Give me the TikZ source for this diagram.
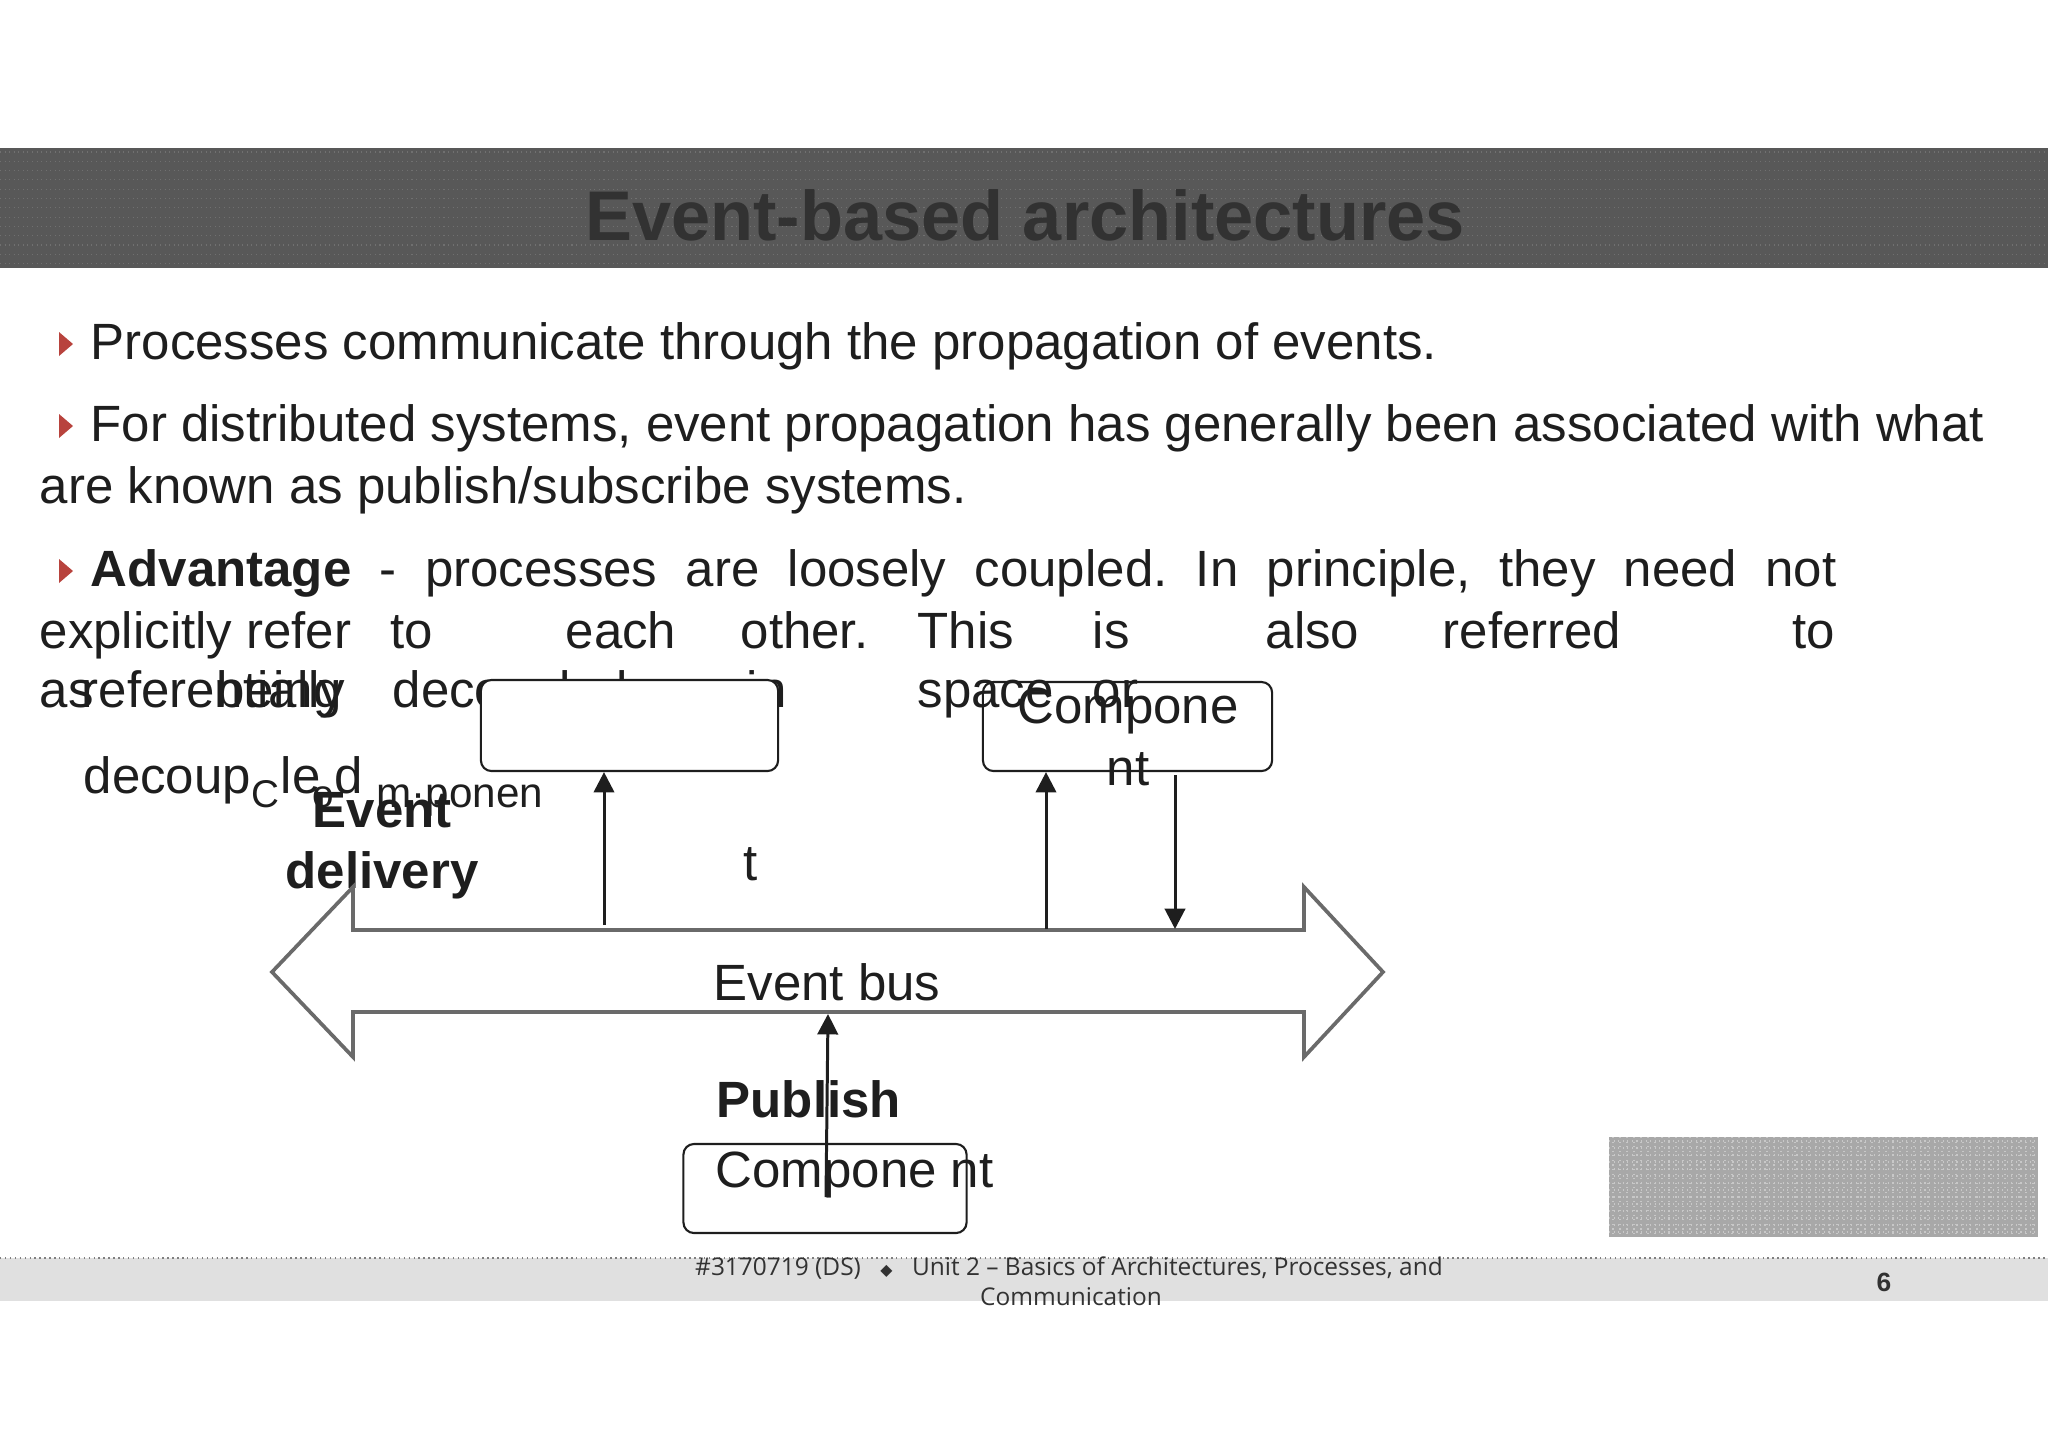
\documentclass[tikz,border=0pt]{standalone}
\usepackage{fontspec}
\setmainfont{Liberation Sans}
\newfontfamily\footfont{Open Sans}
\newfontfamily\symfont{DejaVu Sans}
\usetikzlibrary{arrows.meta}
\definecolor{ink}{HTML}{1E1E1E}
\definecolor{titleink}{HTML}{323232}
\definecolor{busgray}{HTML}{6A6A6A}
\definecolor{bandgray}{HTML}{585858}
\definecolor{banddot}{HTML}{707070}
\definecolor{bulletred}{HTML}{B8433D}
\definecolor{footgray}{HTML}{E0E0E0}
\definecolor{patchgray}{HTML}{A8A8A8}
\definecolor{patchdot}{HTML}{C8C8C8}
\frenchspacing
\tikzset{
  txt/.style={anchor=base west, inner sep=0pt, text=ink, font=\fontsize{14.5}{17.4}\selectfont},
  boldtxt/.style={txt, font=\fontsize{14.5}{17.4}\selectfont\bfseries},
  smalltxt/.style={txt, font=\fontsize{11}{13}\selectfont},
  compbox/.style={draw=ink, line width=.6pt, rounded corners=3pt, minimum height=.89cm, inner sep=0pt},
  evarrow/.style={draw=ink, line width=.85pt, -{Triangle[length=5.8pt,width=5.8pt]}},
  busline/.style={draw=busgray, line width=1.05pt, line join=miter},
  foottxt/.style={anchor=base, inner sep=0pt, text=titleink, font=\footfont\fontsize{6.95}{8}\selectfont}
}
\begin{document}
\begin{tikzpicture}[x=0.01cm, y=-0.01cm]
\useasboundingbox (0,0) rectangle (2048,1448);
% title band
\fill[bandgray] (0,148) rectangle (2048,268);
\foreach \yy in {152,161.3,...,266}
  \draw[banddot, densely dotted, line width=.3pt] (0,\yy) -- (2048,\yy);
\node[anchor=base, inner sep=0pt, text=titleink, font=\fontsize{20}{24}\selectfont\bfseries] (title) at (1025,240) {Event-based architectures};
% bullets
\foreach \yb in {359,441,586}
  \fill[bulletred] (59,{\yb-27}) -- (73,{\yb-15}) -- (59,{\yb-3}) -- cycle;
\node[txt] (l1) at (90,359) {Processes communicate through the propagation of events.};
\node[txt] (l2) at (90,441) {For distributed systems, event propagation has generally been associated with what};
\node[txt] (l3) at (39,503) {are known as publish/subscribe systems.};
\node[txt] (l4) at (90,586) {\makebox[17.45cm][s]{\textbf{Advantage} - processes are loosely coupled. In principle, they need not}};
\foreach \xx/\ww in {39/explicitly refer, 390/to, 565/each, 740/other., 917/This, 1092/is, 1265/also, 1442/referred, 1792/to}
  \node[txt] (a\xx) at (\xx,648) {\ww};
\foreach \xx/\ww in {39/as, 81/referentially, 216/being, 392/decoupled, 746/in, 917/space, 1092/or}
  \node[txt] (b\xx) at (\xx,707) {\ww};
% second box stays unfilled
\node[compbox, minimum width=2.89cm] (comp2) at (1127.5,726.5) {};
\node[anchor=base, inner sep=0pt, text=ink, font=\fontsize{14.5}{17.4}\selectfont] (comp2a) at (1128,723) {Compone};
\node[anchor=base, inner sep=0pt, text=ink, font=\fontsize{14.5}{17.4}\selectfont] (comp2b) at (1128,785) {nt};
% first box hides the line below it
\node[compbox, fill=white, minimum width=2.97cm, minimum height=.91cm] (comp1) at (629.5,725.5) {};
% split pieces
\node[txt] (dec1) at (83,793) {decoup};
\node[txt] (dec2) at (280,793) {le};
\node[txt] (dec3) at (334,793) {d};
\node[smalltxt] (co1) at (251,807) {C};
\node[smalltxt] (co2) at (312,807) {o};
\node[txt, font=\fontsize{12}{14}\selectfont] (co3) at (376,807) {m·ponen};
\node[txt] (co4) at (743,880) {t};
\node[boldtxt] (deliv1) at (312,827) {Event};
\node[boldtxt] (deliv2) at (285,888) {delivery};
% event bus
\draw[busline] (272,972) -- (353,887) -- (353,930) -- (1304,930) -- (1304,887)
  -- (1383,972) -- (1304,1057) -- (1304,1012) -- (353,1012) -- (353,1057) -- cycle;
\node[anchor=base, inner sep=0pt, text=ink, font=\fontsize{14.5}{17.4}\selectfont] (bus) at (827,1000) {Event bus};
% publisher
\node[compbox, minimum width=2.83cm] (comp3) at (825,1188.5) {};
\node[txt] (comp3a) at (715,1187) {Compone nt};
\node[boldtxt] (pub) at (716,1117) {Publish};
% connectors
\coordinate (tap1) at (604,925);
\coordinate (tap2) at (1046,929);
\coordinate (drop1) at (1175,775);
\coordinate (drop2) at (1175,929);
\coordinate (pub1) at (826,1197);
\coordinate (pub2) at (828,1014);
\draw[evarrow] (tap1) -- (tap1 |- comp1.south);
\draw[evarrow] (tap2) -- (tap2 |- comp2.south);
\draw[evarrow] (drop1) -- (drop2);
\draw[evarrow] (pub1) -- (pub2);
% grey patch
\fill[patchgray] (1609,1137) rectangle (2038,1237);
\foreach \yy in {1141,1148,...,1234}
  \draw[patchdot, densely dotted, line width=.3pt] (1609,\yy) -- (2038,\yy);
\foreach \xx in {1613,1620,...,2036}
  \draw[patchdot, densely dotted, line width=.3pt] (\xx,1137) -- (\xx,1237);
% footer
\fill[footgray] (0,1258) rectangle (2048,1301);
\draw[gray, densely dotted, line width=.4pt] (0,1258) -- (2048,1258);
\node[foottxt] (foot1) at (1069,1275) {\#3170719 (DS)\hspace{.8em}{\symfont\fontsize{4.5}{6}\selectfont ◆}\hspace{.8em}Unit 2 – Basics of Architectures, Processes, and};
\node[foottxt] (foot2) at (1071,1305) {Communication};
\node[anchor=base, inner sep=0pt, text=titleink, font=\fontsize{7.5}{9}\selectfont\bfseries] (page) at (1884,1291) {6};
\end{tikzpicture}
\end{document}
